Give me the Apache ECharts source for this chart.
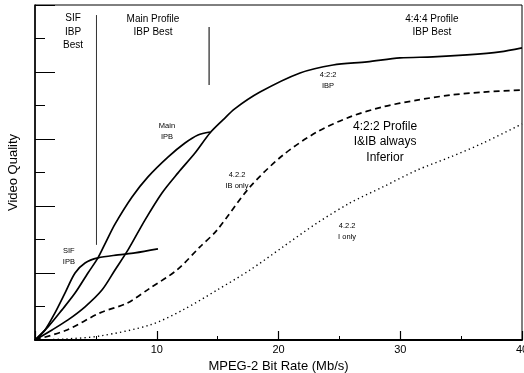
<!DOCTYPE html>
<html>
<head>
<meta charset="utf-8">
<script src="https://cdn.jsdelivr.net/npm/echarts@6/dist/echarts.min.js"></script>
<style>html,body{margin:0;padding:0;background:#fff}#c{width:524px;height:373px}</style>
</head>
<body>
<div id="c"></div>
<script>
// Data (x: Mb/s, y: relative quality 0..10)
const sifIPB = [[0,0],[0.82,0.3],[1.64,0.81],[2.46,1.4],[3.29,2.0],[4.11,2.3],[5.17,2.45],[6.82,2.54],[8.21,2.6],[10.1,2.72]];
const mainIPB = [[0,0],[1.07,0.39],[2.22,0.9],[3.29,1.4],[4.35,2.0],[5.17,2.45],[5.83,2.93],[6.57,3.46],[7.97,4.27],[9.28,4.87],[10.92,5.46],[12.32,5.88],[13.39,6.12],[14.37,6.21]];
const ibp422 = [[0,0],[1.4,0.3],[2.71,0.6],[4.11,0.99],[5.5,1.49],[6.57,2.09],[7.64,2.69],[9.03,3.58],[10.43,4.39],[11.75,4.99],[13.14,5.58],[14.37,6.18],[15.44,6.57],[16.4,6.9],[18.48,7.4],[21.77,7.97],[24.48,8.21],[27.27,8.3],[29.98,8.42],[32.69,8.45],[35.48,8.51],[38.19,8.6],[40,8.72]];
const ibOnly422 = [[0,0],[2.63,0.3],[5.34,0.81],[7.56,1.1],[9.45,1.55],[11.66,2.09],[13.55,2.78],[14.95,3.28],[17.66,4.57],[20.37,5.52],[23.16,6.21],[25.87,6.66],[28.58,6.96],[31.38,7.16],[34.09,7.31],[36.8,7.4],[39.84,7.46]];
const iOnly422 = [[0,0],[2.46,0.03],[5.34,0.12],[9.45,0.45],[12.16,0.9],[14.95,1.49],[17.66,2.09],[20.37,2.78],[23.16,3.49],[25.87,4.09],[28.58,4.57],[31.38,5.07],[34.09,5.46],[36.8,5.88],[40,6.45]];
const divider1 = [[5.05,9.7],[5.05,2.84]];
const divider2 = [[14.3,9.34],[14.3,7.61]];
const xTicks = [10,20,30,40];
const regionNotes = [
  {text:'SIF\nIBP\nBest', at:[3.12,9.2]},
  {text:'Main Profile\nIBP Best', at:[9.69,9.38]},
  {text:'4:4:4 Profile\nIBP Best', at:[32.6,9.38]}
];
const curveNotes = [
  {text:'Main\nIPB', at:[10.84,6.24]},
  {text:'4:2:2\nIBP', at:[24.07,7.76]},
  {text:'4.2.2\nIB only', at:[16.59,4.75]},
  {text:'4.2.2\nI only', at:[25.63,3.25]},
  {text:'SIF\nIPB', at:[2.78,2.48]}
];
const bigNote = [{text:'4:2:2 Profile\nI&IB always\nInferior', at:[28.75,5.91]}];

const FONT = 'Liberation Sans, Arial, sans-serif';
const INK = '#000';
function curve(data, type, width){
  return {type:'line', data:data, smooth:0.3, showSymbol:false, symbol:'none',
    lineStyle:{color:INK, width:width||1.7, type:type||'solid'}, silent:true, z:3};
}
function notes(arr, size, lh){
  return {type:'scatter', symbolSize:0, silent:true, z:5, itemStyle:{opacity:1},
    data: arr.map(n=>({value:n.at, label:{formatter:n.text}})),
    label:{show:true, position:'inside', color:INK, opacity:1, textBorderWidth:0, fontFamily:FONT, fontSize:size, lineHeight:lh, align:'center', verticalAlign:'middle'}};
}
const chart = echarts.init(document.getElementById('c'), null, {renderer:'canvas'});
chart.setOption({
  animation:false,
  backgroundColor:'#fff',
  grid:{left:35, right:2, top:5, bottom:33, show:true, borderColor:INK, borderWidth:1,
    containLabel:false, outerBoundsMode:'none'},
  xAxis:{type:'value', min:0, max:40, interval:10,
    name:'MPEG-2 Bit Rate (Mb/s)', nameLocation:'middle', nameGap:18,
    nameTextStyle:{fontFamily:FONT, fontSize:13, color:INK},
    axisLine:{show:true, lineStyle:{color:INK, width:2}},
    axisTick:{show:true, inside:true, length:9, lineStyle:{color:INK, width:1.2}},
    minorTick:{show:true, splitNumber:2, length:4, lineStyle:{color:INK, width:1}},
    splitLine:{show:false},
    axisLabel:{fontFamily:FONT, fontSize:11, color:INK, margin:4,
      formatter:v=> xTicks.indexOf(v)>=0 ? String(v) : ''}},
  yAxis:{type:'value', min:0, max:10, interval:2,
    name:'Video Quality', nameLocation:'middle', nameGap:15,
    nameTextStyle:{fontFamily:FONT, fontSize:13, color:INK},
    axisLine:{show:true, lineStyle:{color:INK, width:1.5}},
    axisTick:{show:true, inside:true, length:20, lineStyle:{color:INK, width:1}},
    minorTick:{show:true, splitNumber:2, length:10, lineStyle:{color:INK, width:1}},
    splitLine:{show:false}, axisLabel:{show:false}},
  series:[
    curve(sifIPB),
    curve(mainIPB),
    curve(ibp422),
    curve(ibOnly422,[6,4],1.7),
    curve(iOnly422,[1.3,3.2],1.4),
    {type:'line', data:divider1, symbol:'none', lineStyle:{color:'#333', width:1}, silent:true},
    {type:'line', data:divider2, symbol:'none', lineStyle:{color:'#333', width:1.3}, silent:true},
    notes(regionNotes, 10, 13.5),
    notes(curveNotes, 7.5, 11),
    notes(bigNote, 12, 15.5)
  ]
});
</script>
</body>
</html>
